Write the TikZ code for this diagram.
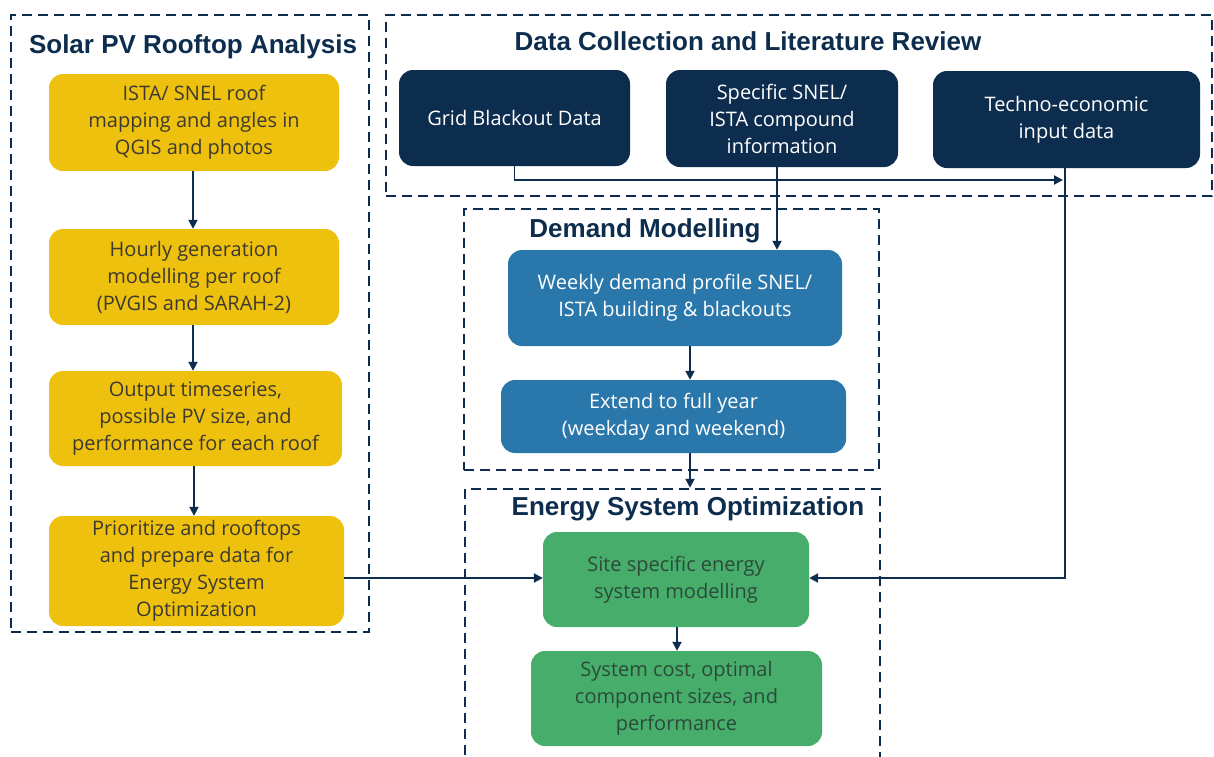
\documentclass[tikz,border=0pt]{standalone}
\usepackage{fontspec}
\setmainfont{Open Sans}
\newfontfamily\titlefont{Liberation Sans}
\usetikzlibrary{arrows.meta}
\definecolor{navy}{HTML}{0D2D4E}
\definecolor{yel}{HTML}{EFC10F}
\definecolor{ytext}{HTML}{3C3A30}
\definecolor{bluebox}{HTML}{2A78AB}
\definecolor{greenbox}{HTML}{46AE6A}
\definecolor{gtext}{HTML}{2C4A3A}
\tikzset{
  box/.style={rounded corners=14pt, align=center, inner sep=0pt, font=\fontsize{20}{27}\selectfont},
  ybox/.style={box, fill=yel, text=ytext},
  dbox/.style={box, fill=navy, text=white},
  bbox/.style={box, fill=bluebox, text=white},
  gbox/.style={box, fill=greenbox, text=gtext},
  frame/.style={draw=navy, line width=2.5pt, dash pattern=on 10pt off 6pt, inner sep=0pt},
  ttl/.style={font=\titlefont\bfseries\fontsize{26}{28}\selectfont, text=navy, inner sep=0pt},
  arr/.style={draw=navy, line width=1.9pt, -{Triangle[length=9pt,width=9pt]}}
}
\begin{document}
\begin{tikzpicture}[x=1pt,y=-1pt]
\useasboundingbox (0,0) rectangle (1214,756);
\fill[white] (0,0) rectangle (1214,756);
% frames
\node[frame, minimum width=358pt, minimum height=617pt] (fSolar) at (190,323.5) {};
\node[frame, minimum width=826pt, minimum height=181pt] (fData) at (799,105.5) {};
\node[frame, minimum width=415pt, minimum height=261pt] (fDem) at (671.5,339.5) {};
\node[frame, minimum width=415pt, minimum height=290pt] (fESO) at (672.5,634) {};
% titles
\node[ttl] (tSolar) at (193,47) {Solar PV Rooftop Analysis};
\node[ttl] (tData) at (748,41) {Data Collection and Literature Review};
\node[ttl] (tDem) at (645,231) {Demand Modelling};
\node[ttl] (tESO) at (688,509) {Energy System Optimization};
% yellow
\node[ybox, minimum width=290pt, minimum height=97pt] (Y1) at (194,122.5) {ISTA/ SNEL roof\\mapping and angles in\\QGIS and photos};
\node[ybox, minimum width=290pt, minimum height=96pt] (Y2) at (194,277) {Hourly generation\\modelling per roof\\(PVGIS and SARAH-2)};
\node[ybox, minimum width=293pt, minimum height=95pt] (Y3) at (195.5,418.5) {Output timeseries,\\possible PV size, and\\performance for each roof};
\node[ybox, minimum width=295pt, minimum height=110pt] (Y4) at (196.5,571) {Prioritize and rooftops\\and prepare data for\\Energy System\\Optimization};
% navy
\node[dbox, minimum width=231pt, minimum height=96pt] (D1) at (514.5,118) {Grid Blackout Data};
\node[dbox, minimum width=232pt, minimum height=97pt] (D2) at (782,118.5) {Specific SNEL/\\ISTA compound\\information};
\node[dbox, minimum width=267pt, minimum height=97pt] (D3) at (1066.5,119.5) {Techno-economic\\input data};
% blue
\node[bbox, minimum width=334pt, minimum height=96pt] (B1) at (675,298) {Weekly demand profile SNEL/\\ISTA building \& blackouts};
\node[bbox, minimum width=345pt, minimum height=73pt] (B2) at (673.5,416.5) {Extend to full year\\(weekday and weekend)};
% green
\node[gbox, minimum width=266pt, minimum height=95pt] (G1) at (676,579.5) {Site specific energy\\system modelling};
\node[gbox, minimum width=291pt, minimum height=95pt] (G2) at (676.5,698.5) {System cost, optimal\\component sizes, and\\performance};
% connectors
\coordinate (j1) at (1063,180);
\draw[arr] (Y1.south -| 193,0) -- (Y2.north -| 193,0);
\draw[arr] (Y2.south -| 193,0) -- (Y3.north -| 193,0);
\draw[arr] (Y3.south -| 194,0) -- (Y4.north -| 194,0);
\draw[arr] (Y4.east |- 0,578) -- (G1.west |- 0,578);
\draw[arr] (D1.south) |- (j1);
\draw[arr] (D2.south -| 777,0) -- (B1.north -| 777,0);
\draw[arr] (D3.south -| 1065,0) |- (G1.east |- 0,578);
\draw[arr] (B1.south -| 690,0) -- (B2.north -| 690,0);
\draw[arr] (B2.south -| 690,0) -- (fESO.north -| 690,0);
\draw[arr] (G1.south -| 677,0) -- (G2.north -| 677,0);
\end{tikzpicture}
\end{document}
